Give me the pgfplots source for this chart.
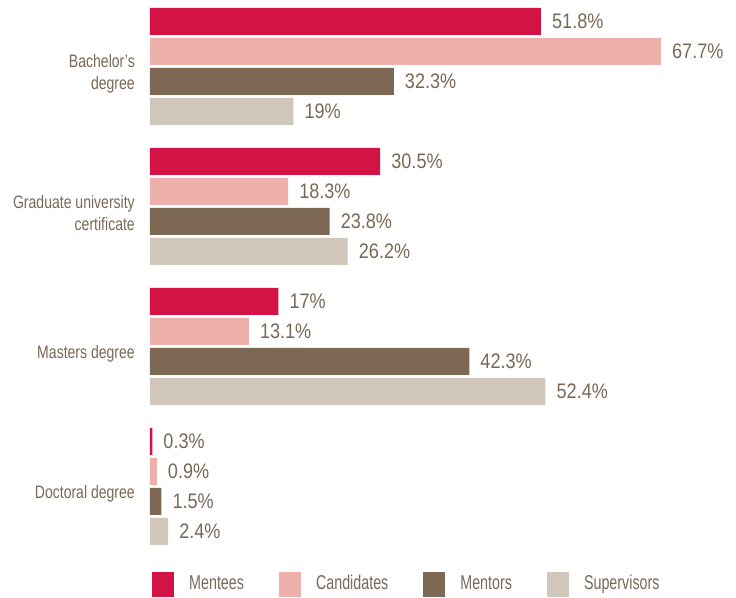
\documentclass[border=0pt]{standalone}
\usepackage{fontspec}
\setmainfont{Liberation Sans}[FakeStretch=0.78]
\newfontfamily\valfont{Liberation Sans}[FakeStretch=0.86]
\newfontfamily\legfont{Liberation Sans}[FakeStretch=0.715]
\usepackage{pgfplots}
\pgfplotsset{compat=1.18}
\definecolor{cMentees}{HTML}{D31245}
\definecolor{cCand}{HTML}{EEB0AA}
\definecolor{cMentors}{HTML}{7C6853}
\definecolor{cSup}{HTML}{D1C6BA}
\definecolor{txt}{HTML}{7A6855}
\begin{document}
\begin{tikzpicture}
\path[use as bounding box] (-150pt,0pt) rectangle (586pt,597pt);
\begin{axis}[
  scale only axis,
  width=586pt, height=597pt,
  xmin=0, xmax=77.64,
  ymin=-597, ymax=0,
  xbar, bar width=27pt, bar shift=0pt,
  axis line style={draw=none},
  tick style={draw=none},
  major tick length=0pt,
  xtick=\empty,
  ytick={-73.5,-213.5,-353.5,-493.5},
  yticklabels={{Bachelor’s\\degree},{Graduate university\\certificate},{Masters degree},{Doctoral degree}},
  yticklabel style={align=right, anchor=east, inner sep=0pt, xshift=-15pt, text=txt, font=\fontsize{18}{22}\selectfont},
  clip=false,
  point meta=explicit symbolic,
  nodes near coords,
  every node near coord/.append style={anchor=west, xshift=11pt, inner sep=0pt, text=txt, font=\fontsize{21}{24}\valfont},
  legend columns=4,
  legend style={draw=none, fill=none, inner sep=0pt, at={(0.0034,0)}, anchor=south west,
    cells={anchor=base west},
    nodes={inner sep=0pt, text=txt, font=\fontsize{20}{24}\legfont},
    /tikz/every odd column/.append style={column sep=15pt},
    /tikz/every even column/.append style={column sep=35pt}},
  legend image code/.code={\fill[#1,draw=none] (0pt,-7pt) rectangle (22pt,18pt);},
]
\addplot[fill=cMentees, draw=none] coordinates {(51.8,-21.5)[51.8\%] (30.5,-161.5)[30.5\%] (17,-301.5)[17\%] (0.3,-441.5)[0.3\%]};
\addlegendentry{Mentees}
\addplot[fill=cCand, draw=none] coordinates {(67.7,-51.5)[67.7\%] (18.3,-191.5)[18.3\%] (13.1,-331.5)[13.1\%] (0.9,-471.5)[0.9\%]};
\addlegendentry{Candidates}
\addplot[fill=cMentors, draw=none] coordinates {(32.3,-81.5)[32.3\%] (23.8,-221.5)[23.8\%] (42.3,-361.5)[42.3\%] (1.5,-501.5)[1.5\%]};
\addlegendentry{Mentors}
\addplot[fill=cSup, draw=none] coordinates {(19,-111.5)[19\%] (26.2,-251.5)[26.2\%] (52.4,-391.5)[52.4\%] (2.4,-531.5)[2.4\%]};
\addlegendentry{Supervisors}
\end{axis}
\end{tikzpicture}
\end{document}
